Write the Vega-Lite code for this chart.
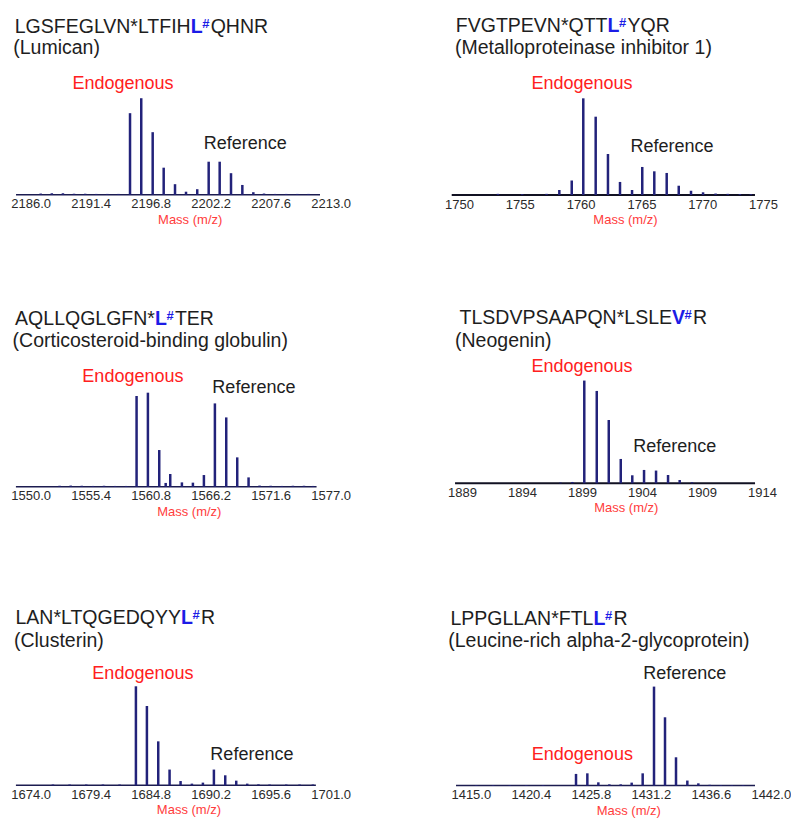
{
  "$schema": "https://vega.github.io/schema/vega-lite/v6.json",
  "background": "white",
  "padding": {"left": 8, "top": 0, "right": 0, "bottom": 0},
  "columns": 2,
  "bounds": "flush",
  "spacing": {"row": 100, "column": 116},
  "config": {
    "font": "Liberation Sans",
    "view": {"stroke": null},
    "axisX": {"domain": false, "ticks": false, "grid": false, "labelFontSize": 13, "labelColor": "#2a2a2a", "labelPadding": 3, "labelFlush": false, "labelOverlap": false, "titleFontSize": 13, "titleFontWeight": "normal", "titleColor": "#ff3c3c", "titlePadding": 2.5}
  },
  "concat": [
    {
      "width": 324, "height": 194.7,
      "encoding": {
        "x": {"field": "mass", "type": "quantitative", "scale": {"domain": [2183.957, 2213.12], "nice": false, "zero": false},
              "axis": {"values": [2186.0, 2191.4, 2196.8, 2202.2, 2207.6, 2213.0], "format": ".1f", "title": "Mass (m/z)", "titleX": 181.7}},
        "y": {"field": "intensity", "type": "quantitative", "scale": {"domain": [0, 201.8]}, "axis": null}
      },
      "layer": [
        {"data": {"values": [{"mass": 2184.68, "mass_end": 2212.04, "intensity": 0}]}, "mark": {"type": "rule", "color": "#1c1c50", "strokeWidth": 1.5}, "encoding": {"x2": {"field": "mass_end"}}},
        {"data": {"values": [
          {"mass": 2186.9, "intensity": 1.2}, {"mass": 2187.9, "intensity": 1.5}, {"mass": 2188.9, "intensity": 1.5}, {"mass": 2189.9, "intensity": 1.0}, {"mass": 2190.9, "intensity": 1.0}, {"mass": 2191.9, "intensity": 0.8}, {"mass": 2192.9, "intensity": 0.8}, {"mass": 2193.9, "intensity": 0.8},
          {"mass": 2194.94, "intensity": 84.5}, {"mass": 2195.95, "intensity": 100}, {"mass": 2196.98, "intensity": 64.8}, {"mass": 2197.97, "intensity": 28}, {"mass": 2198.99, "intensity": 10.9}, {"mass": 2199.98, "intensity": 3.1}, {"mass": 2200.99, "intensity": 5.7},
          {"mass": 2202.02, "intensity": 34.2}, {"mass": 2203.01, "intensity": 34.2}, {"mass": 2204.03, "intensity": 22.3}, {"mass": 2205.05, "intensity": 10.1}, {"mass": 2206.04, "intensity": 2.6},
          {"mass": 2207.0, "intensity": 1.2}, {"mass": 2208.0, "intensity": 0.8}, {"mass": 2209.0, "intensity": 0.8}, {"mass": 2210.0, "intensity": 0.8}, {"mass": 2211.0, "intensity": 0.8}
        ]}, "mark": {"type": "rule", "color": "#22227a", "strokeWidth": 2.5}, "encoding": {"y2": {"datum": 0}}},
        {"data": {"values": [{"mass": 2194.31, "intensity": 109.2, "label": "Endogenous"}, {"mass": 2205.32, "intensity": 47.0, "label": "Reference"}]},
         "mark": {"type": "text", "fontSize": 18, "align": "center", "baseline": "alphabetic"},
         "encoding": {"text": {"field": "label"}, "color": {"field": "label", "type": "nominal", "scale": {"domain": ["Endogenous", "Reference"], "range": ["#ff2020", "#1e1e1e"]}, "legend": null}}},
        {"data": {"values": [{"mass": 2200.4, "intensity": 167.9, "pre": "LGSFEGLVN*LTFIH", "hl": "L", "suf": "QHNR"}]}, "mark": {"type": "text", "fontSize": 19.5, "align": "right", "baseline": "alphabetic", "color": "#1e1e1e"}, "encoding": {"text": {"field": "pre"}}},
        {"data": {"values": [{"mass": 2200.4, "intensity": 167.9, "pre": "LGSFEGLVN*LTFIH", "hl": "L", "suf": "QHNR"}]}, "mark": {"type": "text", "fontSize": 19.5, "fontWeight": "bold", "align": "left", "baseline": "alphabetic", "color": "#1c1ce6"}, "encoding": {"text": {"field": "hl"}}},
        {"data": {"values": [{"mass": 2200.4, "intensity": 167.9, "pre": "LGSFEGLVN*LTFIH", "hl": "L", "suf": "QHNR"}]}, "mark": {"type": "text", "fontSize": 13, "fontWeight": "bold", "align": "left", "baseline": "alphabetic", "color": "#1c1ce6", "dx": 11.5, "dy": -5, "text": "#"}},
        {"data": {"values": [{"mass": 2200.4, "intensity": 167.9, "pre": "LGSFEGLVN*LTFIH", "hl": "L", "suf": "QHNR"}]}, "mark": {"type": "text", "fontSize": 19.5, "align": "left", "baseline": "alphabetic", "color": "#1e1e1e", "dx": 20}, "encoding": {"text": {"field": "suf"}}},
        {"data": {"values": [{"mass": 2184.43, "intensity": 145.5, "name": "(Lumican)"}]}, "mark": {"type": "text", "fontSize": 19.5, "align": "left", "baseline": "alphabetic", "color": "#1e1e1e"}, "encoding": {"text": {"field": "name"}}}
      ]
    },
    {
      "width": 317, "height": 195,
      "encoding": {
        "x": {"field": "mass", "type": "quantitative", "scale": {"domain": [1749.095, 1775.164], "nice": false, "zero": false},
              "axis": {"values": [1750, 1755, 1760, 1765, 1770, 1775], "format": "d", "title": "Mass (m/z)", "titleX": 177}},
        "y": {"field": "intensity", "type": "quantitative", "scale": {"domain": [0, 201.7]}, "axis": null}
      },
      "layer": [
        {"data": {"values": [{"mass": 1749.4, "mass_end": 1774.34, "intensity": 0}]}, "mark": {"type": "rule", "color": "#111122", "strokeWidth": 2}, "encoding": {"x2": {"field": "mass_end"}}},
        {"data": {"values": [
          {"mass": 1753.2, "intensity": 1.2}, {"mass": 1755.2, "intensity": 0.8}, {"mass": 1757.2, "intensity": 1.2},
          {"mass": 1758.25, "intensity": 5.2}, {"mass": 1759.27, "intensity": 15}, {"mass": 1760.22, "intensity": 100}, {"mass": 1761.24, "intensity": 81}, {"mass": 1762.25, "intensity": 42.4}, {"mass": 1763.24, "intensity": 13.5}, {"mass": 1764.23, "intensity": 5.2},
          {"mass": 1765.07, "intensity": 29}, {"mass": 1766.06, "intensity": 24.5}, {"mass": 1767.08, "intensity": 22.8}, {"mass": 1768.07, "intensity": 9.6}, {"mass": 1769.08, "intensity": 4.4}, {"mass": 1770.07, "intensity": 2.8},
          {"mass": 1771.1, "intensity": 1.5}, {"mass": 1772.1, "intensity": 1.2}, {"mass": 1773.1, "intensity": 1.0}, {"mass": 1774.0, "intensity": 0.8}
        ]}, "mark": {"type": "rule", "color": "#22227a", "strokeWidth": 2.5}, "encoding": {"y2": {"datum": 0}}},
        {"data": {"values": [{"mass": 1760.12, "intensity": 109.3, "label": "Endogenous"}, {"mass": 1767.52, "intensity": 44.8, "label": "Reference"}]},
         "mark": {"type": "text", "fontSize": 18, "align": "center", "baseline": "alphabetic"},
         "encoding": {"text": {"field": "label"}, "color": {"field": "label", "type": "nominal", "scale": {"domain": ["Endogenous", "Reference"], "range": ["#ff2020", "#1e1e1e"]}, "legend": null}}},
        {"data": {"values": [{"mass": 1762.21, "intensity": 168.3, "pre": "FVGTPEVN*QTT", "hl": "L", "suf": "YQR"}]}, "mark": {"type": "text", "fontSize": 19.5, "align": "right", "baseline": "alphabetic", "color": "#1e1e1e"}, "encoding": {"text": {"field": "pre"}}},
        {"data": {"values": [{"mass": 1762.21, "intensity": 168.3, "pre": "FVGTPEVN*QTT", "hl": "L", "suf": "YQR"}]}, "mark": {"type": "text", "fontSize": 19.5, "fontWeight": "bold", "align": "left", "baseline": "alphabetic", "color": "#1c1ce6"}, "encoding": {"text": {"field": "hl"}}},
        {"data": {"values": [{"mass": 1762.21, "intensity": 168.3, "pre": "FVGTPEVN*QTT", "hl": "L", "suf": "YQR"}]}, "mark": {"type": "text", "fontSize": 13, "fontWeight": "bold", "align": "left", "baseline": "alphabetic", "color": "#1c1ce6", "dx": 11.5, "dy": -5, "text": "#"}},
        {"data": {"values": [{"mass": 1762.21, "intensity": 168.3, "pre": "FVGTPEVN*QTT", "hl": "L", "suf": "YQR"}]}, "mark": {"type": "text", "fontSize": 19.5, "align": "left", "baseline": "alphabetic", "color": "#1e1e1e", "dx": 20}, "encoding": {"text": {"field": "suf"}}},
        {"data": {"values": [{"mass": 1749.67, "intensity": 145.5, "name": "(Metalloproteinase inhibitor 1)"}]}, "mark": {"type": "text", "fontSize": 19.5, "align": "left", "baseline": "alphabetic", "color": "#1e1e1e"}, "encoding": {"text": {"field": "name"}}}
      ]
    },
    {
      "width": 324, "height": 191.7,
      "encoding": {
        "x": {"field": "mass", "type": "quantitative", "scale": {"domain": [1547.957, 1577.12], "nice": false, "zero": false},
              "axis": {"values": [1550.0, 1555.4, 1560.8, 1566.2, 1571.6, 1577.0], "format": ".1f", "title": "Mass (m/z)", "titleX": 180.8}},
        "y": {"field": "intensity", "type": "quantitative", "scale": {"domain": [0, 203.9]}, "axis": null}
      },
      "layer": [
        {"data": {"values": [{"mass": 1548.67, "mass_end": 1575.73, "intensity": 0}]}, "mark": {"type": "rule", "color": "#1c1c50", "strokeWidth": 1.5}, "encoding": {"x2": {"field": "mass_end"}}},
        {"data": {"values": [
          {"mass": 1552.6, "intensity": 1.0}, {"mass": 1553.6, "intensity": 1.2}, {"mass": 1554.6, "intensity": 1.0}, {"mass": 1555.6, "intensity": 0.8}, {"mass": 1556.6, "intensity": 1.0}, {"mass": 1557.6, "intensity": 0.8}, {"mass": 1558.6, "intensity": 0.8},
          {"mass": 1559.53, "intensity": 96.5}, {"mass": 1560.55, "intensity": 100}, {"mass": 1561.57, "intensity": 39}, {"mass": 1562.15, "intensity": 4}, {"mass": 1562.56, "intensity": 13.5}, {"mass": 1563.61, "intensity": 4.6}, {"mass": 1564.6, "intensity": 4.3},
          {"mass": 1565.59, "intensity": 12.4}, {"mass": 1566.58, "intensity": 88.6}, {"mass": 1567.6, "intensity": 73.7}, {"mass": 1568.59, "intensity": 31.2}, {"mass": 1569.61, "intensity": 9.9},
          {"mass": 1570.6, "intensity": 1.2}, {"mass": 1571.6, "intensity": 1.0}, {"mass": 1572.6, "intensity": 0.8}, {"mass": 1573.6, "intensity": 1.0}, {"mass": 1574.6, "intensity": 1.0}, {"mass": 1575.4, "intensity": 0.8}
        ]}, "mark": {"type": "rule", "color": "#22227a", "strokeWidth": 2.5}, "encoding": {"y2": {"datum": 0}}},
        {"data": {"values": [{"mass": 1559.2, "intensity": 111.7, "label": "Endogenous"}, {"mass": 1570.09, "intensity": 100, "label": "Reference"}]},
         "mark": {"type": "text", "fontSize": 18, "align": "center", "baseline": "alphabetic"},
         "encoding": {"text": {"field": "label"}, "color": {"field": "label", "type": "nominal", "scale": {"domain": ["Endogenous", "Reference"], "range": ["#ff2020", "#1e1e1e"]}, "legend": null}}},
        {"data": {"values": [{"mass": 1561.18, "intensity": 172.3, "pre": "AQLLQGLGFN*", "hl": "L", "suf": "TER"}]}, "mark": {"type": "text", "fontSize": 19.5, "align": "right", "baseline": "alphabetic", "color": "#1e1e1e"}, "encoding": {"text": {"field": "pre"}}},
        {"data": {"values": [{"mass": 1561.18, "intensity": 172.3, "pre": "AQLLQGLGFN*", "hl": "L", "suf": "TER"}]}, "mark": {"type": "text", "fontSize": 19.5, "fontWeight": "bold", "align": "left", "baseline": "alphabetic", "color": "#1c1ce6"}, "encoding": {"text": {"field": "hl"}}},
        {"data": {"values": [{"mass": 1561.18, "intensity": 172.3, "pre": "AQLLQGLGFN*", "hl": "L", "suf": "TER"}]}, "mark": {"type": "text", "fontSize": 13, "fontWeight": "bold", "align": "left", "baseline": "alphabetic", "color": "#1c1ce6", "dx": 11.5, "dy": -5, "text": "#"}},
        {"data": {"values": [{"mass": 1561.18, "intensity": 172.3, "pre": "AQLLQGLGFN*", "hl": "L", "suf": "TER"}]}, "mark": {"type": "text", "fontSize": 19.5, "align": "left", "baseline": "alphabetic", "color": "#1e1e1e", "dx": 20}, "encoding": {"text": {"field": "suf"}}},
        {"data": {"values": [{"mass": 1548.37, "intensity": 148.9, "name": "(Corticosteroid-binding globulin)"}]}, "mark": {"type": "text", "fontSize": 19.5, "align": "left", "baseline": "alphabetic", "color": "#1e1e1e"}, "encoding": {"text": {"field": "name"}}}
      ]
    },
    {
      "width": 317, "height": 188.3,
      "encoding": {
        "x": {"field": "mass", "type": "quantitative", "scale": {"domain": [1887.833, 1914.25], "nice": false, "zero": false},
              "axis": {"values": [1889, 1894, 1899, 1904, 1909, 1914], "format": "d", "title": "Mass (m/z)", "titleX": 177.8}},
        "y": {"field": "intensity", "type": "quantitative", "scale": {"domain": [0, 183.3]}, "axis": null}
      },
      "layer": [
        {"data": {"values": [{"mass": 1888.42, "mass_end": 1913.42, "intensity": 0}]}, "mark": {"type": "rule", "color": "#111122", "strokeWidth": 2}, "encoding": {"x2": {"field": "mass_end"}}},
        {"data": {"values": [
          {"mass": 1897.2, "intensity": 0.7}, {"mass": 1898.2, "intensity": 1.3},
          {"mass": 1899.19, "intensity": 100}, {"mass": 1900.23, "intensity": 89.9}, {"mass": 1901.23, "intensity": 61.6}, {"mass": 1902.23, "intensity": 23.7}, {"mass": 1903.19, "intensity": 7.8},
          {"mass": 1904.17, "intensity": 13}, {"mass": 1905.17, "intensity": 12.4}, {"mass": 1906.17, "intensity": 8.1}, {"mass": 1907.14, "intensity": 3.2}, {"mass": 1908.17, "intensity": 1.0}
        ]}, "mark": {"type": "rule", "color": "#22227a", "strokeWidth": 2.5}, "encoding": {"y2": {"datum": 0}}},
        {"data": {"values": [{"mass": 1899.0, "intensity": 108.7, "label": "Endogenous"}, {"mass": 1906.73, "intensity": 30.2, "label": "Reference"}]},
         "mark": {"type": "text", "fontSize": 18, "align": "center", "baseline": "alphabetic"},
         "encoding": {"text": {"field": "label"}, "color": {"field": "label", "type": "nominal", "scale": {"domain": ["Endogenous", "Reference"], "range": ["#ff2020", "#1e1e1e"]}, "legend": null}}},
        {"data": {"values": [{"mass": 1906.5, "intensity": 155.1, "pre": "TLSDVPSAAPQN*LSLE", "hl": "V", "suf": "R"}]}, "mark": {"type": "text", "fontSize": 19.5, "align": "right", "baseline": "alphabetic", "color": "#1e1e1e"}, "encoding": {"text": {"field": "pre"}}},
        {"data": {"values": [{"mass": 1906.5, "intensity": 155.1, "pre": "TLSDVPSAAPQN*LSLE", "hl": "V", "suf": "R"}]}, "mark": {"type": "text", "fontSize": 19.5, "fontWeight": "bold", "align": "left", "baseline": "alphabetic", "color": "#1c1ce6"}, "encoding": {"text": {"field": "hl"}}},
        {"data": {"values": [{"mass": 1906.5, "intensity": 155.1, "pre": "TLSDVPSAAPQN*LSLE", "hl": "V", "suf": "R"}]}, "mark": {"type": "text", "fontSize": 13, "fontWeight": "bold", "align": "left", "baseline": "alphabetic", "color": "#1c1ce6", "dx": 12.5, "dy": -5, "text": "#"}},
        {"data": {"values": [{"mass": 1906.5, "intensity": 155.1, "pre": "TLSDVPSAAPQN*LSLE", "hl": "V", "suf": "R"}]}, "mark": {"type": "text", "fontSize": 19.5, "align": "left", "baseline": "alphabetic", "color": "#1e1e1e", "dx": 21}, "encoding": {"text": {"field": "suf"}}},
        {"data": {"values": [{"mass": 1888.42, "intensity": 133.0, "name": "(Neogenin)"}]}, "mark": {"type": "text", "fontSize": 19.5, "align": "left", "baseline": "alphabetic", "color": "#1e1e1e"}, "encoding": {"text": {"field": "name"}}}
      ]
    },
    {
      "width": 324, "height": 198.3,
      "encoding": {
        "x": {"field": "mass", "type": "quantitative", "scale": {"domain": [1671.957, 1701.12], "nice": false, "zero": false},
              "axis": {"values": [1674.0, 1679.4, 1684.8, 1690.2, 1695.6, 1701.0], "format": ".1f", "title": "Mass (m/z)", "titleX": 180.5}},
        "y": {"field": "intensity", "type": "quantitative", "scale": {"domain": [0, 200.3]}, "axis": null}
      },
      "layer": [
        {"data": {"values": [{"mass": 1672.67, "mass_end": 1699.67, "intensity": 0}]}, "mark": {"type": "rule", "color": "#1c1c50", "strokeWidth": 1.5}, "encoding": {"x2": {"field": "mass_end"}}},
        {"data": {"values": [
          {"mass": 1676.0, "intensity": 0.8}, {"mass": 1677.5, "intensity": 0.8}, {"mass": 1679.0, "intensity": 0.8}, {"mass": 1680.5, "intensity": 0.8}, {"mass": 1682.0, "intensity": 0.8},
          {"mass": 1683.47, "intensity": 100}, {"mass": 1684.46, "intensity": 80.1}, {"mass": 1685.48, "intensity": 44.4}, {"mass": 1686.5, "intensity": 15.9}, {"mass": 1687.49, "intensity": 4.3}, {"mass": 1688.51, "intensity": 1.7}, {"mass": 1689.5, "intensity": 2.7},
          {"mass": 1690.49, "intensity": 15.9}, {"mass": 1691.51, "intensity": 10.1}, {"mass": 1692.5, "intensity": 4.7}, {"mass": 1693.49, "intensity": 1.7},
          {"mass": 1694.5, "intensity": 1.0}, {"mass": 1695.5, "intensity": 0.8}, {"mass": 1697.0, "intensity": 0.8}, {"mass": 1698.2, "intensity": 0.8}, {"mass": 1699.4, "intensity": 0.8}
        ]}, "mark": {"type": "rule", "color": "#22227a", "strokeWidth": 2.5}, "encoding": {"y2": {"datum": 0}}},
        {"data": {"values": [{"mass": 1684.1, "intensity": 107.8, "label": "Endogenous"}, {"mass": 1693.91, "intensity": 26.0, "label": "Reference"}]},
         "mark": {"type": "text", "fontSize": 18, "align": "center", "baseline": "alphabetic"},
         "encoding": {"text": {"field": "label"}, "color": {"field": "label", "type": "nominal", "scale": {"domain": ["Endogenous", "Reference"], "range": ["#ff2020", "#1e1e1e"]}, "legend": null}}},
        {"data": {"values": [{"mass": 1687.52, "intensity": 162.6, "pre": "LAN*LTQGEDQYY", "hl": "L", "suf": "R"}]}, "mark": {"type": "text", "fontSize": 19.5, "align": "right", "baseline": "alphabetic", "color": "#1e1e1e"}, "encoding": {"text": {"field": "pre"}}},
        {"data": {"values": [{"mass": 1687.52, "intensity": 162.6, "pre": "LAN*LTQGEDQYY", "hl": "L", "suf": "R"}]}, "mark": {"type": "text", "fontSize": 19.5, "fontWeight": "bold", "align": "left", "baseline": "alphabetic", "color": "#1c1ce6"}, "encoding": {"text": {"field": "hl"}}},
        {"data": {"values": [{"mass": 1687.52, "intensity": 162.6, "pre": "LAN*LTQGEDQYY", "hl": "L", "suf": "R"}]}, "mark": {"type": "text", "fontSize": 13, "fontWeight": "bold", "align": "left", "baseline": "alphabetic", "color": "#1c1ce6", "dx": 11.5, "dy": -5, "text": "#"}},
        {"data": {"values": [{"mass": 1687.52, "intensity": 162.6, "pre": "LAN*LTQGEDQYY", "hl": "L", "suf": "R"}]}, "mark": {"type": "text", "fontSize": 19.5, "align": "left", "baseline": "alphabetic", "color": "#1e1e1e", "dx": 20}, "encoding": {"text": {"field": "suf"}}},
        {"data": {"values": [{"mass": 1672.49, "intensity": 139.7, "name": "(Clusterin)"}]}, "mark": {"type": "text", "fontSize": 19.5, "align": "left", "baseline": "alphabetic", "color": "#1e1e1e"}, "encoding": {"text": {"field": "name"}}}
      ]
    },
    {
      "width": 325, "height": 198.6,
      "encoding": {
        "x": {"field": "mass", "type": "quantitative", "scale": {"domain": [1412.948, 1442.2], "nice": false, "zero": false},
              "axis": {"values": [1415.0, 1420.4, 1425.8, 1431.2, 1436.6, 1442.0], "format": ".1f", "title": "Mass (m/z)", "titleX": 180.3}},
        "y": {"field": "intensity", "type": "quantitative", "scale": {"domain": [0, 200.6]}, "axis": null}
      },
      "layer": [
        {"data": {"values": [{"mass": 1413.67, "mass_end": 1440.58, "intensity": 0}]}, "mark": {"type": "rule", "color": "#1c1c50", "strokeWidth": 1.5}, "encoding": {"x2": {"field": "mass_end"}}},
        {"data": {"values": [
          {"mass": 1415.5, "intensity": 0.6}, {"mass": 1417.0, "intensity": 0.6}, {"mass": 1418.5, "intensity": 0.6}, {"mass": 1420.0, "intensity": 0.6}, {"mass": 1421.5, "intensity": 0.6},
          {"mass": 1424.47, "intensity": 11.8}, {"mass": 1425.49, "intensity": 12.4}, {"mass": 1426.48, "intensity": 3.3}, {"mass": 1427.47, "intensity": 1.3}, {"mass": 1428.49, "intensity": 1.3}, {"mass": 1429.48, "intensity": 3.0},
          {"mass": 1430.47, "intensity": 12.4}, {"mass": 1431.49, "intensity": 100}, {"mass": 1432.48, "intensity": 69}, {"mass": 1433.47, "intensity": 28.6}, {"mass": 1434.49, "intensity": 5.1}, {"mass": 1435.48, "intensity": 2.3},
          {"mass": 1436.5, "intensity": 0.8}, {"mass": 1437.5, "intensity": 0.6}, {"mass": 1438.5, "intensity": 0.6}, {"mass": 1439.5, "intensity": 0.6}
        ]}, "mark": {"type": "rule", "color": "#22227a", "strokeWidth": 2.5}, "encoding": {"y2": {"datum": 0}}},
        {"data": {"values": [{"mass": 1425.04, "intensity": 26.3, "label": "Endogenous"}, {"mass": 1434.26, "intensity": 108.1, "label": "Reference"}]},
         "mark": {"type": "text", "fontSize": 18, "align": "center", "baseline": "alphabetic"},
         "encoding": {"text": {"field": "label"}, "color": {"field": "label", "type": "nominal", "scale": {"domain": ["Endogenous", "Reference"], "range": ["#ff2020", "#1e1e1e"]}, "legend": null}}},
        {"data": {"values": [{"mass": 1426.04, "intensity": 162.6, "pre": "LPPGLLAN*FTL", "hl": "L", "suf": "R"}]}, "mark": {"type": "text", "fontSize": 19.5, "align": "right", "baseline": "alphabetic", "color": "#1e1e1e"}, "encoding": {"text": {"field": "pre"}}},
        {"data": {"values": [{"mass": 1426.04, "intensity": 162.6, "pre": "LPPGLLAN*FTL", "hl": "L", "suf": "R"}]}, "mark": {"type": "text", "fontSize": 19.5, "fontWeight": "bold", "align": "left", "baseline": "alphabetic", "color": "#1c1ce6"}, "encoding": {"text": {"field": "hl"}}},
        {"data": {"values": [{"mass": 1426.04, "intensity": 162.6, "pre": "LPPGLLAN*FTL", "hl": "L", "suf": "R"}]}, "mark": {"type": "text", "fontSize": 13, "fontWeight": "bold", "align": "left", "baseline": "alphabetic", "color": "#1c1ce6", "dx": 11.5, "dy": -5, "text": "#"}},
        {"data": {"values": [{"mass": 1426.04, "intensity": 162.6, "pre": "LPPGLLAN*FTL", "hl": "L", "suf": "R"}]}, "mark": {"type": "text", "fontSize": 19.5, "align": "left", "baseline": "alphabetic", "color": "#1e1e1e", "dx": 20}, "encoding": {"text": {"field": "suf"}}},
        {"data": {"values": [{"mass": 1412.97, "intensity": 140.0, "name": "(Leucine-rich alpha-2-glycoprotein)"}]}, "mark": {"type": "text", "fontSize": 19.5, "align": "left", "baseline": "alphabetic", "color": "#1e1e1e"}, "encoding": {"text": {"field": "name"}}}
      ]
    }
  ]
}
